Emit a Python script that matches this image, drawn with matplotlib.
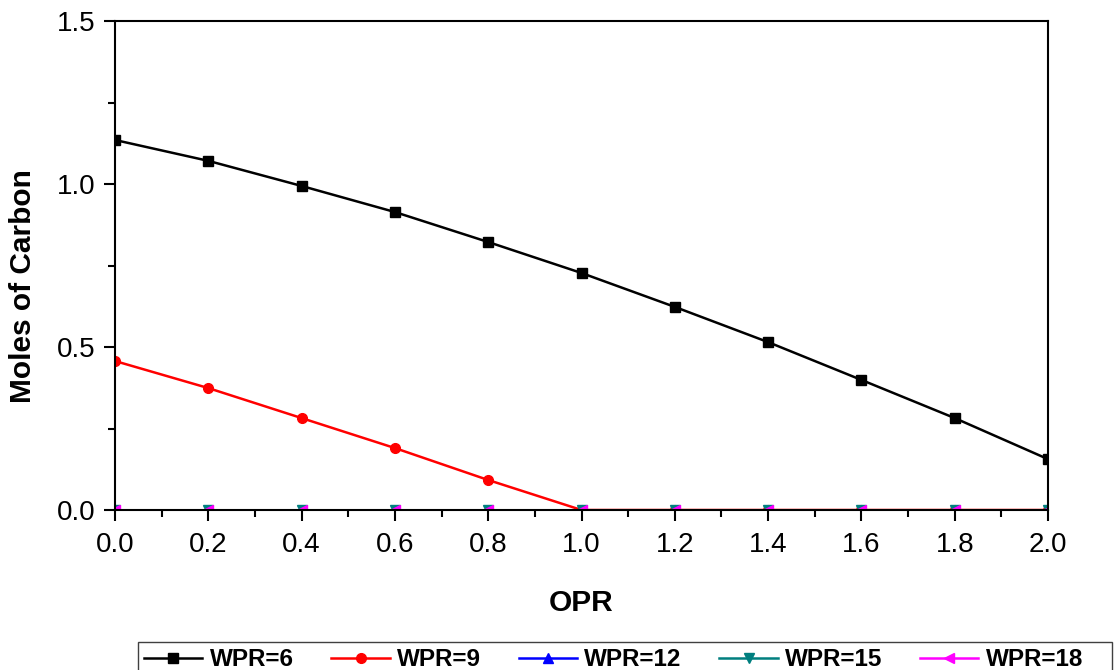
import matplotlib
matplotlib.use("Agg")
import matplotlib.pyplot as plt
from matplotlib.patches import Rectangle
from matplotlib.ticker import MultipleLocator

plt.rcParams.update({
    "font.family": ["Liberation Sans", "DejaVu Sans"],
    "font.size": 20,
})

opr = [0.0, 0.2, 0.4, 0.6, 0.8, 1.0, 1.2, 1.4, 1.6, 1.8, 2.0]
wpr6 = [1.135, 1.071, 0.994, 0.914, 0.822, 0.727, 0.623, 0.515, 0.399, 0.282, 0.156]
wpr9 = [0.457, 0.374, 0.282, 0.190, 0.092, 0.0, 0.0, 0.0, 0.0, 0.0, 0.0]
wpr12 = [0.0] * 11
wpr15 = [0.0] * 11
wpr18 = [0.0] * 11

series = [
    ("WPR=6", wpr6, "black", "s"),
    ("WPR=9", wpr9, "red", "o"),
    ("WPR=12", wpr12, "blue", "^"),
    ("WPR=15", wpr15, "#007f7f", "v"),
    ("WPR=18", wpr18, "magenta", "<"),
]

W, H = 1119, 670
fig = plt.figure(figsize=(W / 100, H / 100), dpi=100)
ax = fig.add_axes([115 / W, 1 - 510 / H, (1048 - 115) / W, (510 - 21) / H])

for label, ys, color, marker in series:
    ax.plot(opr, ys, color=color, marker=marker, markersize=7,
            linewidth=1.8, label=label)

ax.set_xlim(0, 2.0)
ax.set_ylim(0, 1.5)
ax.xaxis.set_major_locator(MultipleLocator(0.2))
ax.xaxis.set_minor_locator(MultipleLocator(0.1))
ax.yaxis.set_major_locator(MultipleLocator(0.5))
ax.yaxis.set_minor_locator(MultipleLocator(0.25))
ax.xaxis.set_major_formatter(plt.FormatStrFormatter("%.1f"))
ax.yaxis.set_major_formatter(plt.FormatStrFormatter("%.1f"))
ax.tick_params(which="major", direction="out", length=8, width=1.5, pad=8)
ax.tick_params(which="minor", direction="out", length=5, width=1.5)
ax.tick_params(axis="y", which="major", pad=6)
for s in ax.spines.values():
    s.set_linewidth(1.5)

ax.set_xlabel("OPR", fontsize=21.5, fontweight="bold", labelpad=22)
ax.set_ylabel("Moles of Carbon", fontsize=21.5, fontweight="bold")
ax.yaxis.set_label_coords(-0.0836, 0.458)

# legend row along the bottom edge, boxed by a separate frame that runs off the figure
leg = fig.legend(loc="upper left", bbox_to_anchor=(138 / W, 1 - 642 / H),
                 ncol=5, frameon=False, borderaxespad=0, handlelength=2.4,
                 handletextpad=0.3, columnspacing=1.55,
                 prop={"weight": "bold", "size": 17.5}, borderpad=0.25)
fig.patches.append(Rectangle((138 / W, -0.05), (1112 - 138) / W, 0.05 + (670 - 642) / H,
                             transform=fig.transFigure, fill=False,
                             edgecolor="#404040", linewidth=1.0))

fig.savefig("out.png", dpi=100)
